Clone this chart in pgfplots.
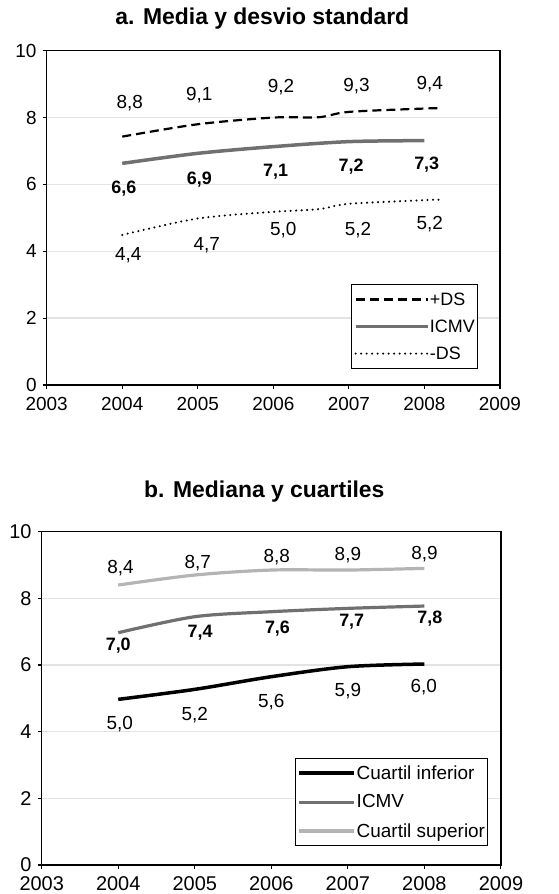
\documentclass[border=0pt]{standalone}
\usepackage{fontspec}
\setmainfont{Liberation Sans}
\usepackage{pgfplots}
\pgfplotsset{compat=1.18}

\definecolor{icmv}{HTML}{707070}
\definecolor{cuartsup}{HTML}{B4B4B4}

\pgfplotsset{
  panel/.style={
    scale only axis,
    xmin=2003, xmax=2009, ymin=0, ymax=10,
    xtick={2003,...,2009}, ytick={0,2,...,10},
    tick pos=left, tick align=outside,
    major tick length=4bp,
    axis line style={line width=1.1bp},
    every tick/.style={black, line width=1.1bp},
    ymajorgrids, grid style={gray!22, line width=1.3bp},
    /pgf/number format/1000 sep={},
    /pgf/number format/assume math mode=true,
    yticklabel style={inner sep=1bp, xshift=-5bp},
    legend cell align=left,
  },
  lab/.style={draw=none, mark=none, forget plot, nodes near coords,
    point meta=explicit symbolic,
    every node near coord/.append style={anchor=center, inner sep=0pt, font=#1}},
}

\begin{document}
\begin{tikzpicture}
\useasboundingbox (0,0) rectangle (559bp,-894bp);

% ---- a. Media y desvio standard ----
\begin{axis}[panel,
  width=453.3bp, height=334.3bp,
  at={(46.7bp,-385bp)}, anchor=south west,
  title={a. Media y desvio standard},
  title style={anchor=center, yshift=26bp, xshift=-11bp, font=\bfseries\fontsize{23}{27}\selectfont},
  ticklabel style={font=\fontsize{19}{21}\selectfont},
  xticklabel style={inner sep=1bp, yshift=-7bp},
  legend style={at={(0.951,0.302)}, anchor=north east, draw=black, line width=1.1bp,
    font=\fontsize{18}{20}\selectfont, row sep=9bp, inner xsep=2bp, inner ysep=6bp,
    nodes={inner xsep=0.5bp}},
  legend image code/.code={\draw[#1] (0bp,0bp) -- (72bp,0bp);},
]
\addplot[black, line width=2.2bp, dash pattern=on 9bp off 5bp, smooth] coordinates {
  (2004,7.43) (2005,7.80) (2006,8.00) (2006.6,8.01) (2007,8.17) (2008,8.27) (2008.2,8.28)};
\addlegendentry{+DS}
\addplot[icmv, line width=3.5bp, smooth] coordinates {
  (2004,6.63) (2005,6.93) (2006,7.13) (2007,7.28) (2008,7.31)};
\addlegendentry{ICMV}
\addplot[black, line width=2.3bp, dash pattern=on 0bp off 5.5bp, line cap=round, smooth] coordinates {
  (2004,4.49) (2005,4.98) (2006,5.18) (2006.6,5.26) (2007,5.42) (2008,5.53) (2008.2,5.54)};
\addlegendentry{-DS}

\addplot[lab=\fontsize{19}{21}\selectfont] table[meta=lab] {
x y lab
2004.10 8.42 8,8
2005.02 8.67 9,1
2006.10 8.90 9,2
2007.10 8.94 9,3
2008.07 9.00 9,4
};
\addplot[lab=\bfseries\fontsize{18}{20}\selectfont] table[meta=lab] {
x y lab
2004.02 5.88 6,6
2005.02 6.13 6,9
2006.03 6.38 7,1
2007.03 6.53 7,2
2008.03 6.58 7,3
};
\addplot[lab=\fontsize{19}{21}\selectfont] table[meta=lab] {
x y lab
2004.08 3.89 4,4
2005.12 4.19 4,7
2006.13 4.64 5,0
2007.12 4.64 5,2
2008.07 4.82 5,2
};
\end{axis}

% ---- b. Mediana y cuartiles ----
\begin{axis}[panel,
  width=459.3bp, height=333.3bp,
  at={(41.7bp,-865bp)}, anchor=south west,
  title={b. Mediana y cuartiles},
  title style={anchor=center, yshift=33.7bp, xshift=-7bp, font=\bfseries\fontsize{23}{27}\selectfont},
  ticklabel style={font=\fontsize{20}{22}\selectfont},
  xticklabel style={inner sep=1bp, yshift=-6bp},
  legend style={at={(0.972,0.321)}, anchor=north east, draw=black, line width=1.1bp,
    font=\fontsize{19}{21}\selectfont, row sep=10bp, inner xsep=2bp, inner ysep=5bp,
    nodes={inner xsep=0.5bp}},
  legend image code/.code={\draw[#1] (0bp,0bp) -- (55bp,0bp);},
]
\addplot[black, line width=3.5bp, smooth] coordinates {
  (2004,4.97) (2005,5.27) (2006,5.65) (2007,5.95) (2008,6.03)};
\addlegendentry{Cuartil inferior}
\addplot[icmv, line width=3.2bp, smooth] coordinates {
  (2004,6.97) (2005,7.45) (2006,7.60) (2007,7.70) (2008,7.77)};
\addlegendentry{ICMV}
\addplot[cuartsup, line width=3.2bp, smooth] coordinates {
  (2004,8.40) (2005,8.70) (2006,8.85) (2007,8.85) (2008,8.90)};
\addlegendentry{Cuartil superior}

\addplot[lab=\fontsize{19}{21}\selectfont] table[meta=lab] {
x y lab
2004.03 8.90 8,4
2005.04 9.05 8,7
2006.07 9.25 8,8
2007.00 9.30 8,9
2008.00 9.33 8,9
};
\addplot[lab=\bfseries\fontsize{18}{20}\selectfont] table[meta=lab] {
x y lab
2004.00 6.57 7,0
2005.07 6.97 7,4
2006.08 7.10 7,6
2007.05 7.30 7,7
2008.07 7.40 7,8
};
\addplot[lab=\fontsize{19}{21}\selectfont] table[meta=lab] {
x y lab
2004.02 4.23 5,0
2005.00 4.50 5,2
2006.00 4.90 5,6
2007.00 5.23 5,9
2007.99 5.33 6,0
};
\end{axis}
\end{tikzpicture}
\end{document}
